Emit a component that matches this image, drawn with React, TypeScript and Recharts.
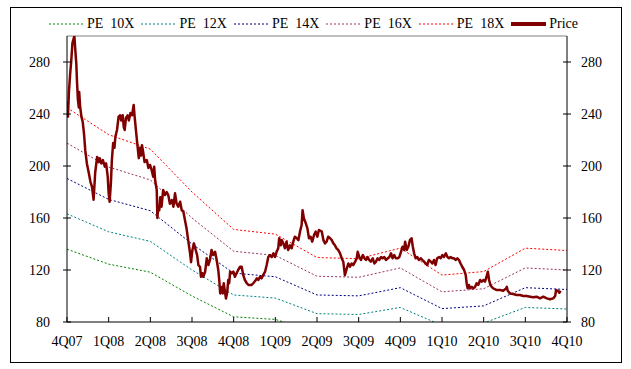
import { Line, LineChart, ReferenceLine, XAxis, YAxis } from "recharts"

const quarters = ["4Q07", "1Q08", "2Q08", "3Q08", "4Q08", "1Q09", "2Q09", "3Q09", "4Q09", "1Q10", "2Q10", "3Q10", "4Q10"]
const yTicks = [80, 120, 160, 200, 240, 280]

// PE bands, one knot per quarter
const pe10 = [136, 124.5, 118.3, 100, 84, 82, 72, 71.5, 76, 64.5, 66, 76, 75]
const pe12 = [163.2, 149.4, 142, 120, 100.8, 98.4, 86.4, 85.8, 91.2, 77.4, 79.2, 91.2, 90]
const pe14 = [190.4, 174.3, 165.6, 140, 117.6, 114.8, 100.8, 100.1, 106.4, 90.3, 92.4, 106.4, 105]
const pe16 = [217.6, 199.2, 189.3, 160, 134.4, 131.2, 115.2, 114.4, 121.6, 103.2, 105.6, 121.6, 120]
const pe18 = [244.8, 224.1, 213, 180, 151.2, 147.6, 129.6, 128.7, 136.8, 116.1, 118.8, 136.8, 135]

// price as [week since 4Q07, value]
const priceByWeek: [number, number][] = [
  [0, 244], [0.2, 249], [0.3, 238], [0.6, 257], [1.0, 271.5], [1.3, 280], [1.7, 294.6], [2.3, 300], [2.6, 289], [2.9, 279],
  [3.1, 266], [3.4, 251], [3.7, 245], [3.8, 257], [4.1, 245.6], [4.5, 238], [4.9, 234], [5.3, 225], [5.7, 212], [6.2, 202],
  [6.8, 194.6], [7.3, 188], [7.8, 184], [8.3, 174], [8.8, 195], [9.4, 207], [9.9, 203], [10.2, 206], [10.7, 202], [11.2, 204.6],
  [11.8, 199.5], [12.2, 202], [12.7, 192], [13.0, 179], [13.3, 172.5], [13.7, 187], [14.0, 204.6], [14.4, 217.6], [14.8, 214],
  [15.1, 222.5], [15.6, 227.7], [16.1, 238], [16.6, 239], [16.9, 235], [17.4, 239], [17.7, 230], [18.0, 227.7], [18.4, 237],
  [18.9, 239], [19.3, 235], [19.8, 240.8], [20.3, 239], [20.8, 247], [21.1, 238], [21.5, 227.7], [21.9, 217.7], [22.4, 206],
  [22.8, 214], [23.1, 208], [23.4, 216], [23.8, 210], [24.2, 203], [24.9, 204.6], [25.4, 198.5], [25.9, 200.8],
  [26.4, 197], [26.9, 191.8], [27.2, 199.5], [27.5, 189], [28.0, 181.5], [28.2, 160], [28.5, 168.7], [28.8, 166], [29.1, 176],
  [29.5, 168.7], [30.0, 181.5], [30.6, 177.7], [31.1, 180], [31.6, 177.7], [32.1, 171], [32.7, 173.8], [33.2, 168.7], [33.7, 179],
  [34.2, 171], [34.7, 168.7], [35.3, 172.5], [35.8, 166], [36.3, 165], [36.8, 158.5], [37.3, 152], [37.8, 143], [38.4, 132.8],
  [38.7, 126], [39.1, 135], [39.6, 140.5], [40.2, 135], [40.6, 131.5], [41.0, 123.8], [41.5, 122.5], [41.8, 114.8], [42.2, 117.5],
  [42.5, 114.8], [43.1, 118.7], [43.6, 129], [44.1, 123.8], [44.6, 127.7], [45.1, 135.4], [45.6, 131.5], [46.2, 134], [46.7, 127.7],
  [47.2, 120], [47.5, 112.3], [47.8, 102], [48.3, 107], [48.6, 102], [48.9, 109.8], [49.3, 103], [49.6, 98], [50.0, 103],
  [50.3, 112.3], [50.6, 109.8], [50.9, 118.7], [51.4, 117.5], [51.9, 118.7], [52.4, 114.8], [52.9, 117.5], [53.4, 120], [54.0, 122.5],
  [54.5, 122.5], [55.0, 116], [55.5, 112.3], [56.1, 109.8], [56.6, 108.5], [57.1, 108.5], [57.6, 108.5], [58.1, 109.8], [58.7, 111.5],
  [59.2, 113.6], [59.7, 112.3], [60.2, 114.8], [60.7, 113.6], [61.2, 116], [61.8, 118.7], [62.3, 123.8], [62.8, 130], [63.3, 131.5],
  [63.9, 130], [64.4, 132.8], [64.9, 130], [65.4, 134], [65.9, 136.7], [66.2, 144.4], [66.7, 139], [67.0, 143], [67.5, 140.5],
  [68.0, 136.7], [68.5, 141.8], [69.0, 135.4], [69.6, 139], [70.1, 136.7], [70.6, 141.8], [71.1, 145.6], [71.7, 144.4], [72.2, 143],
  [72.7, 149.5], [73.2, 154.6], [73.5, 166], [73.9, 159.8], [74.5, 156], [75.0, 152], [75.5, 144.4], [76.0, 145.6], [76.5, 141.8],
  [77.1, 147], [77.6, 149.5], [78.1, 145.6], [78.6, 150.8], [79.5, 149.5], [80.0, 143], [80.5, 140.5], [81.0, 141.8], [81.5, 145.6],
  [82.1, 144.4], [82.6, 143], [83.1, 140.5], [83.6, 139], [84.1, 136.7], [84.6, 135.4], [85.2, 132.8], [85.7, 129], [86.2, 126.4],
  [86.7, 116], [87.3, 121.3], [87.8, 125], [88.3, 122.5], [88.8, 125], [89.3, 123.8], [89.9, 126.4], [90.4, 129], [90.7, 134],
  [91.2, 130], [91.7, 127.7], [92.3, 131.5], [92.8, 129], [93.3, 127.7], [93.8, 130], [94.3, 127.7], [94.8, 126.4], [95.4, 129],
  [95.9, 125], [96.4, 126.4], [96.9, 129], [97.4, 127.7], [98.0, 130], [98.5, 129], [99.0, 130], [99.5, 127.7], [100.1, 129],
  [100.6, 130], [101.1, 132.8], [101.6, 129], [102.1, 131.5], [102.6, 129], [103.2, 129], [103.7, 130], [104.2, 134], [104.7, 137.9],
  [105.2, 135.4], [105.5, 141.8], [106.0, 135.4], [106.5, 137.9], [107.0, 143], [107.5, 144.4], [107.9, 137.9], [108.3, 132.8],
  [108.8, 129], [109.3, 130], [109.8, 127.7], [110.4, 129], [110.9, 127.7], [111.4, 126.4], [111.9, 125], [112.4, 123.8],
  [112.9, 127.7], [113.5, 126.4], [114.0, 125], [114.5, 127.7], [115.0, 123.8], [115.5, 129], [116.1, 130], [116.6, 129],
  [117.1, 131.5], [117.6, 130], [118.2, 132.8], [118.7, 130], [119.2, 129], [119.7, 130], [120.2, 129], [120.7, 129], [121.3, 127.7],
  [121.8, 129], [122.3, 127.7], [122.8, 125], [123.3, 122.5], [123.9, 120], [124.4, 116], [124.7, 109.8], [125.0, 105.9],
  [125.4, 108.5], [125.8, 105.9], [126.3, 107], [126.8, 105.9], [127.3, 107], [127.8, 109.8], [128.3, 108.5], [128.9, 112.3],
  [129.4, 111], [129.9, 112.3], [130.4, 111], [130.9, 114.8], [131.3, 118.7], [131.7, 112.3], [132.1, 108.5], [132.5, 107],
  [133.0, 105.9], [134.1, 104.6], [135.1, 104.6], [136.1, 104], [137.0, 105.9], [137.2, 107], [137.5, 104], [138.2, 102],
  [139.2, 101.5], [140.3, 100.8], [141.3, 100.8], [142.4, 100], [143.4, 100], [144.5, 99.5], [145.5, 99], [146.5, 99.5],
  [147.6, 98.2], [148.6, 99.5], [149.7, 98.2], [150.7, 97.5], [151.7, 98.2], [152.3, 100], [152.6, 104.6], [153.1, 104],
  [153.6, 102.5], [154.0, 104],
]

const WEEKS_PER_QUARTER = 13
const FONT = '"Liberation Serif", "Times New Roman", serif'

const bands = [
  { key: "pe10", label: "PE  10X", color: "#008000", values: pe10 },
  { key: "pe12", label: "PE  12X", color: "#008080", values: pe12 },
  { key: "pe14", label: "PE  14X", color: "#000080", values: pe14 },
  { key: "pe16", label: "PE  16X", color: "#993366", values: pe16 },
  { key: "pe18", label: "PE  18X", color: "#ff0000", values: pe18 },
]

const bandRows = quarters.map((_, i) => {
  const row: Record<string, number> = { week: i * WEEKS_PER_QUARTER }
  bands.forEach((b) => (row[b.key] = b.values[i]))
  return row
})
const priceRows = priceByWeek.map(([week, price]) => ({ week, price }))
const chartData = [...bandRows, ...priceRows].sort((a, b) => a.week - b.week)

function XTick({ x, y, payload }: any) {
  return (
    <g>
      <line x1={x} x2={x} y1={y} y2={y - 5} stroke="#000" />
      <text x={x} y={y + 24} textAnchor="middle" fontSize={14} fontFamily={FONT} fill="#000">
        {quarters[Math.round(payload.value / WEEKS_PER_QUARTER)]}
      </text>
    </g>
  )
}

function YTick({ x, y, payload, side }: any) {
  const left = side === "left"
  return (
    <g>
      <line x1={x - 4} x2={x + 4} y1={y} y2={y} stroke="#000" />
      <text
        x={left ? x - 17 : x + 14}
        y={y + 5}
        textAnchor={left ? "end" : "start"}
        fontSize={14}
        fontFamily={FONT}
        fill="#000"
      >
        {payload.value}
      </text>
    </g>
  )
}

function LegendRow() {
  const items = [
    ...bands.map((b) => ({ label: b.label, color: b.color, width: 1, dash: "2 2" })),
    { label: "Price", color: "#800000", width: 4, dash: undefined },
  ]
  return (
    <div
      style={{
        position: "absolute",
        left: 38,
        top: 8,
        display: "flex",
        alignItems: "center",
        gap: 7,
        fontFamily: FONT,
        fontSize: 14,
        lineHeight: "16px",
        color: "#000",
      }}
    >
      {items.map((it) => (
        <div key={it.label} style={{ display: "flex", alignItems: "center" }}>
          <svg width={35} height={6}>
            <line x1={0} x2={35} y1={3} y2={3} stroke={it.color} strokeWidth={it.width} strokeDasharray={it.dash} />
          </svg>
          <span style={{ marginLeft: 3, whiteSpace: "pre" }}>{it.label}</span>
        </div>
      ))}
    </div>
  )
}

export default function App() {
  return (
    <div
      style={{
        position: "absolute",
        left: 10,
        top: 7,
        width: 610,
        height: 354,
        border: "1px solid #000",
        background: "#fff",
      }}
    >
      <LegendRow />
      <LineChart width={610} height={354} data={chartData} margin={{ top: 28, right: 0, bottom: 0, left: 0 }}>
        <XAxis
          dataKey="week"
          type="number"
          domain={[0, 156]}
          ticks={quarters.map((_, i) => i * WEEKS_PER_QUARTER)}
          allowDataOverflow
          height={40}
          tickSize={0}
          tickMargin={0}
          tickLine={false}
          axisLine={{ stroke: "#000" }}
          tick={<XTick />}
          interval={0}
        />
        <YAxis
          yAxisId="left"
          domain={[80, 300]}
          ticks={yTicks}
          allowDataOverflow
          width={56}
          tickSize={0}
          tickMargin={0}
          tickLine={false}
          axisLine={{ stroke: "#000" }}
          tick={<YTick side="left" />}
          interval={0}
        />
        <YAxis
          yAxisId="right"
          orientation="right"
          domain={[80, 300]}
          ticks={yTicks}
          allowDataOverflow
          width={54}
          tickSize={0}
          tickMargin={0}
          tickLine={false}
          axisLine={{ stroke: "#000" }}
          tick={<YTick side="right" />}
          interval={0}
        />
        <ReferenceLine yAxisId="left" y={300} stroke="#808080" />
        {bands.map((b) => (
          <Line
            key={b.key}
            yAxisId="left"
            type="linear"
            dataKey={b.key}
            stroke={b.color}
            strokeWidth={1}
            strokeDasharray="2 2"
            dot={false}
            connectNulls
            isAnimationActive={false}
          />
        ))}
        <Line
          yAxisId="left"
          type="linear"
          dataKey="price"
          stroke="#800000"
          strokeWidth={2.5}
          strokeLinejoin="round"
          dot={false}
          connectNulls
          isAnimationActive={false}
        />
      </LineChart>
    </div>
  )
}
